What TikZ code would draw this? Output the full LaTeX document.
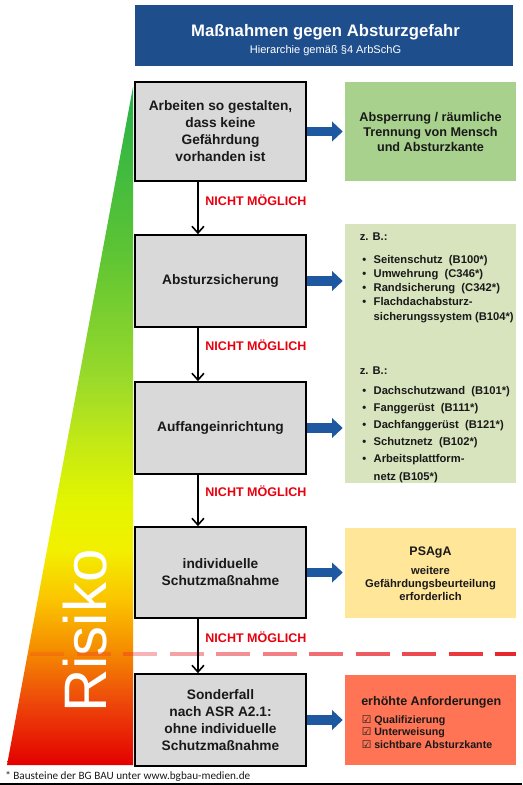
\documentclass[tikz,border=0pt]{standalone}
\usepackage{fontspec}
\setmainfont{Liberation Sans}
\newfontfamily\notefont{Carlito}
\newfontfamily\checkfont{DejaVu Sans}
\usetikzlibrary{arrows.meta, positioning, calc}
\definecolor{titleblue}{HTML}{1F4E8D}
\definecolor{arrowblue}{HTML}{1D58A0}
\definecolor{boxgrey}{HTML}{D9D9D9}
\definecolor{notred}{HTML}{E8000E}
\definecolor{greenbox}{HTML}{A9D18E}
\definecolor{palegreen}{HTML}{D8E4BE}
\definecolor{yellowbox}{HTML}{FFE699}
\definecolor{orangebox}{HTML}{FF7455}
\definecolor{dashred}{HTML}{E8262D}
\colorlet{txtdark}{black!90}
% risk gradient, bottom (red) to top (green)
\definecolor{rk0}{HTML}{E30000}
\definecolor{rk1}{HTML}{EE4A0A}
\definecolor{rk2}{HTML}{F58C00}
\definecolor{rk3}{HTML}{FBC400}
\definecolor{rk4}{HTML}{F2F000}
\definecolor{rk5}{HTML}{E2F500}
\definecolor{rk6}{HTML}{C2E816}
\definecolor{rk7}{HTML}{9ADA2A}
\definecolor{rk8}{HTML}{5CC434}
\definecolor{rk9}{HTML}{26B24A}
\pgfdeclareverticalshading{risiko}{100bp}{color(0bp)=(rk0); color(25bp)=(rk0);
  color(29.8bp)=(rk1); color(33.5bp)=(rk2); color(37.2bp)=(rk3);
  color(40.9bp)=(rk4); color(44.5bp)=(rk5); color(49bp)=(rk6);
  color(53.4bp)=(rk7); color(63bp)=(rk8); color(75bp)=(rk9); color(100bp)=(rk9)}

\begin{document}
\begin{tikzpicture}[
    x=0.75pt, y=-0.75pt,
    font=\bfseries,
    stufe/.style={draw=black, line width=1.3pt, fill=boxgrey, text=txtdark,
                  minimum width=128.25pt, align=center, inner sep=2pt,
                  font=\fontsize{10.3}{12.75}\selectfont\bfseries},
    massbox/.style={fill=#1, minimum width=128.25pt, inner sep=0pt, text=txtdark},
    down/.style={line width=1.2pt, -{Straight Barb[length=5pt, width=9pt]}},
    nm/.style={text=notred, anchor=west, inner sep=0pt, xshift=5pt,
               font=\fontsize{9.4}{11}\selectfont\bfseries},
    fatarrow/.style={arrowblue, line width=6.8pt,
                     -{Triangle[length=8pt, width=14.5pt]}, shorten >=1.5pt},
    zb/.style={anchor=north west, inner sep=0pt, text=txtdark},
]
\useasboundingbox (0,0) rectangle (522,785);

\def\ax{16.9pt}

% Risk wedge
\shade[shading=risiko] (133,87) -- (133,765) -- (7,765) -- cycle;
\node[rotate=90, text=white, font=\fontsize{45}{50}\selectfont\mdseries] (risiko)
    at (85.5,631) {Risiko};

% Title
\node[fill=titleblue, minimum width=283.5pt, minimum height=45.75pt] (titel)
    at (324,35.5) {};
\node[text=white, font=\fontsize{12.5}{15}\selectfont\bfseries] (titeltxt)
    at (325.5,32) {Maßnahmen gegen Absturzgefahr};
\node[text=white, font=\fontsize{8.3}{10}\selectfont\mdseries] (untertitel)
    at (325.5,50.5) {Hierarchie gemäß §4 ArbSchG};

% Borderline for the special case
\foreach \i in {0,...,10}{
    \pgfmathsetmacro\xa{30+46.5*\i}
    \pgfmathsetmacro\xb{min(\xa+34,516)}
    \pgfmathsetmacro\op{0.18+0.082*\i}
    \draw[dashred, line width=2.6pt, opacity=\op] (\xa,654) -- (\xb,654);
}

% Hierarchy steps
\node[stufe, minimum height=74.25pt] (b1) at (220.5,131.5)
    {Arbeiten so gestalten,\\dass keine\\Gefährdung\\vorhanden ist};
\node[stufe, minimum height=69pt] (b2) at (220.5,281) {Absturzsicherung};
\node[stufe, minimum height=69pt] (b3) at (220.5,428) {Auffangeinrichtung};
\node[stufe, minimum height=68.25pt] (b4) at (220.5,572.5)
    {individuelle\\Schutzmaßnahme};
\node[stufe, minimum height=69pt] (b5) at (220.5,720)
    {Sonderfall\\nach ASR A2.1:\\ohne individuelle\\Schutzmaßnahme};

\draw[down] ([xshift=-\ax]b1.south) -- node[nm, pos=0.35] {NICHT MÖGLICH} ([xshift=-\ax]b2.north);
\draw[down] ([xshift=-\ax]b2.south) -- node[nm, pos=0.33] {NICHT MÖGLICH} ([xshift=-\ax]b3.north);
\draw[down] ([xshift=-\ax]b3.south) -- node[nm, pos=0.32] {NICHT MÖGLICH} ([xshift=-\ax]b4.north);
\draw[down] ([xshift=-\ax]b4.south) -- node[nm, pos=0.34] {NICHT MÖGLICH} ([xshift=-\ax]b5.north);

% Measures
\node[massbox=greenbox, minimum height=74.25pt, align=center,
      font=\fontsize{9.5}{11.25}\selectfont\bfseries] (r1) at (430.5,131.5)
    {Absperrung / räumliche\\Trennung von Mensch\\und Absturzkante};
\node[massbox=palegreen, minimum height=194.25pt] (r2) at (430.5,353.5) {};
\node[massbox=yellowbox, minimum height=67.5pt] (r4) at (430.5,573) {};
\node[massbox=orangebox, minimum height=67.5pt] (r5) at (430.5,720) {};

\node[zb, font=\fontsize{8.4}{10.7}\selectfont\bfseries] (zb1) at (359.5,230) {%
    \begin{tabular}{@{\hspace{2pt}}c@{\hspace{5.5pt}}l@{}}
    \multicolumn{2}{@{}l@{}}{z. B.:}\\[6.5pt]
    • & Seitenschutz\ \ (B100*)\\
    • & Umwehrung\ \ (C346*)\\
    • & Randsicherung\ \ (C342*)\\
    • & Flachdachabsturz-\\
      & sicherungssystem (B104*)
    \end{tabular}};
\node[zb, font=\fontsize{8.4}{12.9}\selectfont\bfseries] (zb2) at (359.5,362) {%
    \begin{tabular}{@{\hspace{2pt}}c@{\hspace{5.5pt}}l@{}}
    \multicolumn{2}{@{}l@{}}{z. B.:}\\[2pt]
    • & Dachschutzwand\ \ (B101*)\\
    • & Fanggerüst\ \ (B111*)\\
    • & Dachfanggerüst\ \ (B121*)\\
    • & Schutznetz\ \ (B102*)\\
    • & Arbeitsplattform-\\
      & netz (B105*)
    \end{tabular}};

\node[text=txtdark, font=\fontsize{9.3}{11}\selectfont\bfseries] (psaga)
    at (430.5,552) {PSAgA};
\node[text=txtdark, align=center, font=\fontsize{8.4}{10.1}\selectfont\bfseries]
    (psagatxt) at (430.5,583.5) {weitere\\Gefährdungsbeurteilung\\erforderlich};

\node[text=txtdark, anchor=west, inner sep=0pt,
      font=\fontsize{9.4}{11}\selectfont\bfseries] (anf) at (361,702)
    {erhöhte Anforderungen};
\node[zb, align=left, font=\fontsize{8}{9.4}\selectfont\bfseries] (anfliste)
    at (361.5,715)
    {{\checkfont ☑} Qualifizierung\\{\checkfont ☑} Unterweisung\\{\checkfont ☑} sichtbare Absturzkante};

\draw[fatarrow] (b1.east) -- (r1.west);
\draw[fatarrow] (b2.east) -- (b2.east -| r2.west);
\draw[fatarrow] (b3.east) -- (b3.east -| r2.west);
\draw[fatarrow] (b4.east) -- (r4.west |- b4.east);
\draw[fatarrow] (b5.east) -- (r5.west |- b5.east);

% Footnote
\node[anchor=west, inner sep=0pt, text=txtdark,
      font=\notefont\fontsize{8.4}{10}\selectfont\mdseries] (fussnote)
    at (5,776) {* Bausteine der BG BAU unter www.bgbau-medien.de};
\fill[black] (0,782.5) rectangle (522,785);

\end{tikzpicture}
\end{document}
